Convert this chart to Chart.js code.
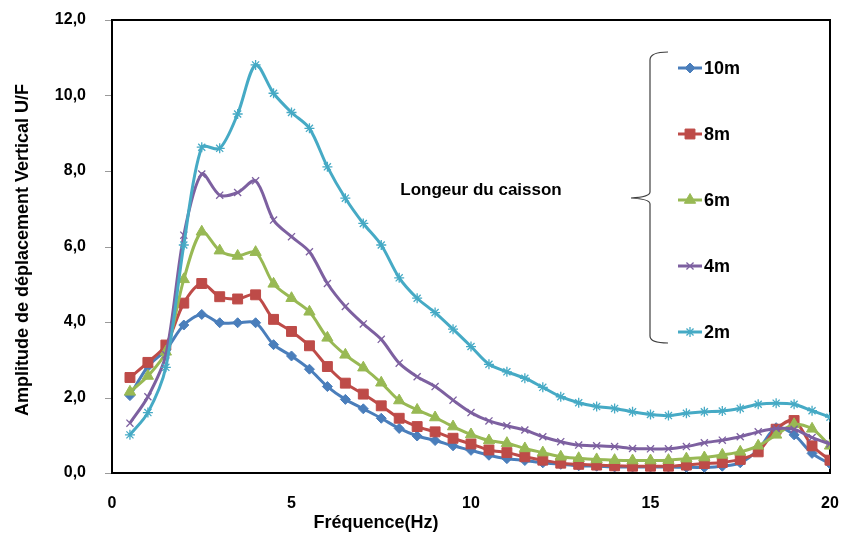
<!DOCTYPE html>
<html>
<head>
<meta charset="utf-8">
<script src="https://cdn.jsdelivr.net/npm/chart.js@4.4.1/dist/chart.umd.min.js"></script>
<style>
  html, body { margin: 0; padding: 0; background: #ffffff; }
  #wrap { width: 843px; height: 539px; }
</style>
</head>
<body>
<div id="wrap"><canvas id="c" width="843" height="539"></canvas></div>
<script>
// ---- data ----
const freq = [0.5,1,1.5,2,2.5,3,3.5,4,4.5,5,5.5,6,6.5,7,7.5,8,8.5,9,9.5,10,
              10.5,11,11.5,12,12.5,13,13.5,14,14.5,15,15.5,16,16.5,17,17.5,18,18.5,19,19.5,20];
const amp10m = [2.05,2.82,3.26,3.92,4.20,3.98,3.98,3.98,3.40,3.10,2.75,2.29,1.95,1.70,1.45,1.18,0.98,0.86,0.72,0.60,
                0.47,0.38,0.33,0.27,0.23,0.19,0.18,0.16,0.16,0.16,0.16,0.15,0.15,0.18,0.27,0.62,1.20,1.01,0.52,0.24];
const amp8m  = [2.53,2.93,3.39,4.50,5.02,4.67,4.61,4.72,4.07,3.75,3.37,2.82,2.38,2.09,1.78,1.45,1.23,1.09,0.92,0.77,
                0.61,0.54,0.43,0.34,0.26,0.23,0.21,0.19,0.18,0.18,0.18,0.21,0.25,0.28,0.36,0.56,1.16,1.39,0.72,0.34];
const amp6m  = [2.15,2.57,3.21,5.13,6.39,5.89,5.75,5.85,5.01,4.63,4.27,3.58,3.13,2.79,2.39,1.92,1.67,1.47,1.23,1.02,
                0.86,0.79,0.65,0.54,0.43,0.39,0.36,0.34,0.33,0.33,0.34,0.38,0.41,0.48,0.56,0.72,1.01,1.29,1.17,0.72];
const amp4m  = [1.32,2.02,3.13,6.30,7.92,7.36,7.43,7.74,6.70,6.26,5.86,5.02,4.41,3.95,3.54,2.91,2.55,2.29,1.93,1.60,
                1.38,1.25,1.14,0.96,0.83,0.74,0.72,0.70,0.65,0.64,0.64,0.70,0.80,0.87,0.96,1.09,1.18,1.16,0.94,0.77];
const amp2m  = [1.01,1.60,2.80,6.04,8.63,8.60,9.51,10.81,10.06,9.55,9.13,8.11,7.28,6.61,6.04,5.17,4.63,4.25,3.81,3.35,
                2.88,2.68,2.51,2.27,2.02,1.86,1.76,1.71,1.62,1.55,1.52,1.58,1.62,1.64,1.71,1.82,1.85,1.82,1.65,1.48];
const seriesNames = ['10m','8m','6m','4m','2m'];
const xTitle = 'Fréquence(Hz)';
const yTitle = 'Amplitude de déplacement Vertical U/F';
const legendTitle = 'Longeur du caisson';

// ---- styles ----
const seriesValues = [amp10m, amp8m, amp6m, amp4m, amp2m];
const colors = ['#4A7EBB','#BE4B48','#98B954','#7D60A0','#46AAC5'];
const pStyles = ['rectRot','rect','triangle','crossRot','star'];
const pRadius = [5,7,6.5,5,5];
const pBorder = [1,1,1,1.3,1.3];
const FONT = '"Liberation Sans", Arial, sans-serif';

const datasets = seriesValues.map((vals, i) => ({
  label: seriesNames[i],
  data: freq.map((f, j) => ({ x: f, y: vals[j] })),
  borderColor: colors[i],
  backgroundColor: colors[i],
  borderWidth: 3,
  pointStyle: pStyles[i],
  pointRadius: pRadius[i],
  pointBorderWidth: pBorder[i],
  pointBorderColor: colors[i],
  pointBackgroundColor: colors[i],
  tension: 0.3,
  order: 5 - i
}));

function drawMarker(ctx, style, x, y, r, color, bw) {
  ctx.save();
  ctx.strokeStyle = color; ctx.fillStyle = color; ctx.lineWidth = bw;
  if (Chart.helpers && Chart.helpers.drawPoint) {
    Chart.helpers.drawPoint(ctx, { pointStyle: style, radius: r, borderWidth: bw, rotation: 0 }, x, y);
  }
  ctx.restore();
}

const decorPlugin = {
  id: 'decor',
  beforeDatasetsDraw(chart) {
    const { ctx, chartArea: a } = chart;
    ctx.save();
    // y tick marks (short, grey, outside)
    const ys = chart.scales.y;
    ctx.strokeStyle = '#9a9a9a';
    ctx.lineWidth = 1;
    ys.ticks.forEach(t => {
      const py = Math.round(ys.getPixelForValue(t.value)) + 0.5;
      ctx.beginPath();
      ctx.moveTo(a.left - 7, py); ctx.lineTo(a.left, py);
      ctx.stroke();
    });
    // plot box
    ctx.strokeStyle = '#000';
    ctx.lineWidth = 2;
    ctx.strokeRect(a.left, a.top, a.right - a.left, a.bottom - a.top);
    ctx.restore();
  },
  afterDraw(chart) {
    const { ctx } = chart;
    ctx.save();
    // axis titles
    ctx.fillStyle = '#000';
    ctx.font = 'bold 18px ' + FONT;
    ctx.textAlign = 'center';
    ctx.textBaseline = 'middle';
    ctx.fillText(xTitle, 376, 523);
    ctx.save();
    ctx.translate(23, 250);
    ctx.rotate(-Math.PI / 2);
    ctx.fillText(yTitle, 0, 0);
    ctx.restore();
    // legend group label
    ctx.font = 'bold 17px ' + FONT;
    ctx.fillText(legendTitle, 481, 190);
    // brace
    ctx.strokeStyle = '#404040';
    ctx.lineWidth = 1.2;
    ctx.beginPath();
    ctx.moveTo(668, 52);
    ctx.quadraticCurveTo(650, 52, 650, 60);
    ctx.lineTo(650, 192);
    ctx.quadraticCurveTo(650, 197, 631, 198);
    ctx.quadraticCurveTo(650, 199, 650, 204);
    ctx.lineTo(650, 336);
    ctx.quadraticCurveTo(650, 343, 668, 343);
    ctx.stroke();
    // legend entries
    const ly = [68, 134, 200, 266, 332];
    chart.data.datasets.forEach((ds, i) => {
      const y = ly[i];
      ctx.strokeStyle = ds.borderColor;
      ctx.lineWidth = 3;
      ctx.beginPath();
      ctx.moveTo(678, y); ctx.lineTo(702, y);
      ctx.stroke();
      drawMarker(ctx, ds.pointStyle, 690, y, ds.pointRadius, ds.borderColor, ds.pointBorderWidth);
      ctx.fillStyle = '#000';
      ctx.font = 'bold 18px ' + FONT;
      ctx.textAlign = 'left';
      ctx.textBaseline = 'middle';
      ctx.fillText(ds.label, 704, y + 1);
    });
    ctx.restore();
  }
};

new Chart(document.getElementById('c'), {
  type: 'line',
  data: { datasets },
  options: {
    responsive: false,
    animation: false,
    events: [],
    layout: { padding: { top: 20, right: 13, left: 0, bottom: 0 } },
    plugins: { legend: { display: false }, tooltip: { enabled: false } },
    scales: {
      x: {
        type: 'linear', min: 0, max: 20,
        ticks: { stepSize: 5, color: '#000', font: { family: FONT, size: 16, weight: 'bold' }, padding: 0, maxRotation: 0 },
        grid: { display: true, drawOnChartArea: false, drawTicks: true, tickLength: 21, tickColor: 'rgba(0,0,0,0)' },
        border: { display: false },
        afterFit: s => { s.height = 66; }
      },
      y: {
        min: 0, max: 12,
        ticks: { stepSize: 2, color: '#000', font: { family: FONT, size: 16, weight: 'bold' }, padding: 0,
                 callback: v => v.toFixed(1).replace('.', ',') },
        grid: { display: true, drawOnChartArea: false, drawTicks: true, tickLength: 26, tickColor: 'rgba(0,0,0,0)' },
        border: { display: false },
        afterFit: s => { s.width = 112; }
      }
    }
  },
  plugins: [decorPlugin]
});
</script>
</body>
</html>
